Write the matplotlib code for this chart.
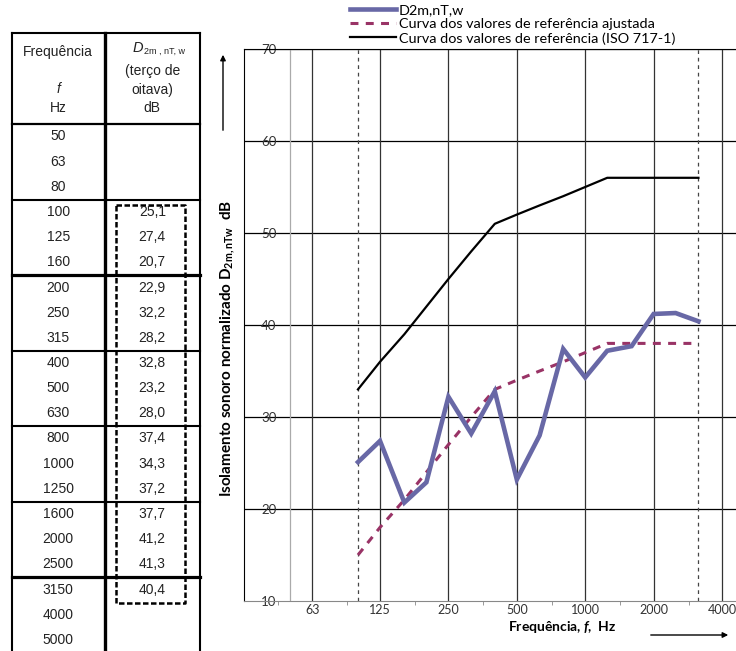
import matplotlib
matplotlib.use("Agg")
import matplotlib.pyplot as plt
import numpy as np

plt.rcParams["font.family"] = ["Lato", "DejaVu Sans"]
plt.rcParams["mathtext.fontset"] = "custom"
plt.rcParams["mathtext.rm"] = "Lato:bold"
plt.rcParams["mathtext.it"] = "Lato:italic:bold"

# --- data -------------------------------------------------------------
band_labels = ["50", "63", "80", "100", "125", "160", "200", "250", "315",
               "400", "500", "630", "800", "1000", "1250", "1600", "2000",
               "2500", "3150", "4000", "5000"]
freqs = [100, 125, 160, 200, 250, 315, 400, 500, 630, 800, 1000, 1250,
         1600, 2000, 2500, 3150]
d2m = [25.1, 27.4, 20.7, 22.9, 32.2, 28.2, 32.8, 23.2, 28.0, 37.4, 34.3,
       37.2, 37.7, 41.2, 41.3, 40.4]
iso_ref = [33, 36, 39, 42, 45, 48, 51, 52, 53, 54, 55, 56, 56, 56, 56, 56]
ref_shift = -18
ref_adjusted = [v + ref_shift for v in iso_ref]
octave_ticks = [63, 125, 250, 500, 1000, 2000, 4000]
octave_labels = ["63", "125", "250", "500", "1000", "2000", "4000"]
y_ticks = [10, 20, 30, 40, 50, 60, 70]

W, H = 736, 651
fig = plt.figure(figsize=(W / 100, H / 100), dpi=100)

# --- table (pixel-based overlay) ---------------------------------------
tab = fig.add_axes([0, 0, 1, 1])
tab.set_xlim(0, W)
tab.set_ylim(H, 0)
tab.axis("off")

tfont = dict(family=["Liberation Sans", "DejaVu Sans"], color="#222222")
x_left, x_mid, x_right = 12, 104.5, 200
y_top, y_head = 33, 124
group_h = 75.5
row_h = group_h / 3

tab.plot([x_left, x_right], [y_top, y_top], color="black", lw=1.5)
tab.plot([x_left, x_left], [y_top, H], color="black", lw=1.5)
tab.plot([x_right, x_right], [y_top, H], color="black", lw=1.5)
tab.plot([x_mid, x_mid], [y_top, H], color="black", lw=2.4)
tab.plot([x_left, x_right], [y_head, y_head], color="black", lw=1.6)
for g in range(1, 7):
    yy = y_head + g * group_h
    lw = 2.3 if g in (2, 6) else 1.5
    tab.plot([x_left, x_right], [yy, yy], color="black", lw=lw)

c1 = (x_left + x_mid) / 2
c2 = (x_mid + x_right) / 2
tab.text(c1, 52, "Frequência", ha="center", va="center", fontsize=10, **tfont)
tab.text(c1, 89, "f", ha="center", va="center", fontsize=10,
         style="italic", **tfont)
tab.text(c1, 108, "Hz", ha="center", va="center", fontsize=10, **tfont)
tab.text(143, 52, "D", ha="right", va="baseline", fontsize=10.5,
         style="italic", **tfont)
tab.text(144, 54, "2m , nT, w", ha="left", va="baseline", fontsize=6.5,
         **tfont)
tab.text(c2, 71, "(terço de", ha="center", va="center", fontsize=10, **tfont)
tab.text(c2, 90, "oitava)", ha="center", va="center", fontsize=10, **tfont)
tab.text(c2, 108, "dB", ha="center", va="center", fontsize=10, **tfont)

value_by_band = {str(f): v for f, v in zip(freqs, d2m)}
for i, lab in enumerate(band_labels):
    yc = y_head + 12.5 + i * row_h
    tab.text(c1, yc, lab, ha="center", va="center", fontsize=10, **tfont)
    if lab in value_by_band:
        txt = f"{value_by_band[lab]:.1f}".replace(".", ",")
        tab.text(c2, yc, txt, ha="center", va="center", fontsize=10, **tfont)

# dashed frame around the measured values
bx0, bx1, by0, by1 = 116, 185, 205, 603
tab.plot([bx0, bx1, bx1, bx0, bx0], [by0, by0, by1, by1, by0],
         color="black", lw=1.8, linestyle=(0, (2.2, 1.0)))

# --- chart -------------------------------------------------------------
px_oct = 68.4
ax_l, ax_t, ax_b = 244, 49, 601
ax_w = W - ax_l
ax_h = ax_b - ax_t
ax = fig.add_axes([ax_l / W, (H - ax_b) / H, ax_w / W, ax_h / H])
ax.set_xscale("log", base=2)
ax.set_xlim(31.5, 31.5 * 2 ** (ax_w / px_oct))
ax.set_ylim(10, 70)

for y in y_ticks[1:]:
    ax.axhline(y, color="black", lw=0.9, zorder=1)
for f in octave_ticks:
    ax.axvline(f, color="#333333", lw=0.9, zorder=1)
ax.axvline(50, color="#aaaaaa", lw=0.9, zorder=1)
for f in (freqs[0], freqs[-1]):
    ax.axvline(f, color="#444444", lw=0.9, linestyle=(0, (3, 3)), zorder=1)

l_meas, = ax.plot(freqs, d2m, color="#6868a6", lw=3.3, zorder=4,
                  solid_joinstyle="miter", label="D2m,nT,w")
l_adj, = ax.plot(freqs, ref_adjusted, color="#993366", lw=2.2,
                 linestyle=(0, (2.6, 2.4)), zorder=3,
                 label="Curva dos valores de referência ajustada")
l_iso, = ax.plot(freqs, iso_ref, color="black", lw=1.6, zorder=3,
                 label="Curva dos valores de referência (ISO 717-1)")

ax.set_xticks(octave_ticks)
ax.set_xticklabels(octave_labels)
ax.xaxis.set_minor_locator(matplotlib.ticker.FixedLocator(
    [31.5 * 2 ** (k + 0.5) for k in range(8)]))
ax.xaxis.set_minor_formatter(matplotlib.ticker.NullFormatter())
ax.tick_params(axis="x", which="major", length=0, pad=2.5,
               labelsize=9, labelcolor="#333333")
ax.tick_params(axis="x", which="minor", length=3, color="#888888")
ax.set_yticks(y_ticks)
ax.tick_params(axis="y", length=0, pad=-23.5, labelsize=9.5,
               labelcolor="#333333")

ax.spines["right"].set_visible(False)
ax.spines["left"].set_color("black")
ax.spines["top"].set_color("black")
ax.spines["bottom"].set_color("#888888")

ax.set_xlabel(r"Frequência, $f$,  Hz", fontsize=10, fontweight="bold",
              va="center")
ax.xaxis.set_label_coords((562 - ax_l) / ax_w, -(627 - ax_b) / ax_h)
ax.set_ylabel(r"Isolamento sonoro normalizado D$_{\mathregular{2m,nTw}}$  dB",
              fontsize=11, fontweight="bold", va="center")
ax.yaxis.set_label_coords(-(ax_l - 228) / ax_w, (ax_b - 348) / ax_h)

# axis direction arrows
ax.annotate("", xy=((731 - ax_l) / ax_w, -(635 - ax_b) / ax_h),
            xytext=((648 - ax_l) / ax_w, -(635 - ax_b) / ax_h),
            xycoords="axes fraction", textcoords="axes fraction",
            arrowprops=dict(arrowstyle="-|>", color="black", lw=1,
                            mutation_scale=8), annotation_clip=False)
ax.annotate("", xy=(-(ax_l - 223) / ax_w, (ax_b - 52) / ax_h),
            xytext=(-(ax_l - 223) / ax_w, (ax_b - 133) / ax_h),
            xycoords="axes fraction", textcoords="axes fraction",
            arrowprops=dict(arrowstyle="-|>", color="black", lw=1,
                            mutation_scale=8), annotation_clip=False)

fig.legend(handles=[l_meas, l_adj, l_iso], loc="upper left",
           bbox_to_anchor=(350 / W, 1 - 4 / H), frameon=False, fontsize=10.4,
           handlelength=3.2, handletextpad=0.2, labelspacing=0.13,
           borderaxespad=0, borderpad=0)

fig.savefig("out.png", dpi=100)
